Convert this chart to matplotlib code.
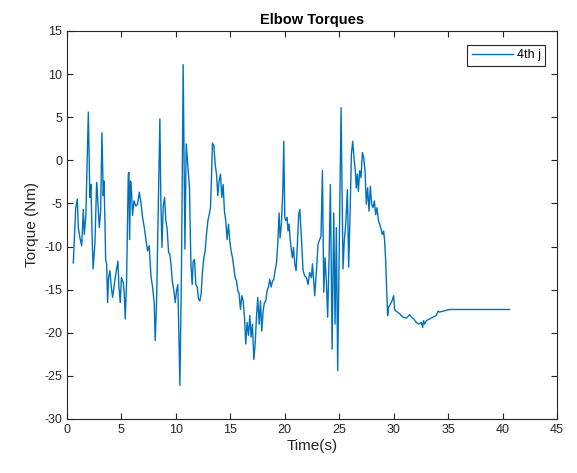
import matplotlib
matplotlib.use("Agg")
import matplotlib.pyplot as plt

# Elbow torque trace (time in s, torque in Nm)
time_s = [
    0.58, 0.80, 0.95, 1.04, 1.19, 1.35, 1.50, 1.59, 1.74, 1.80, 1.96, 2.10,
    2.20, 2.30, 2.40, 2.57, 2.72, 2.81, 2.97, 3.09, 3.21, 3.33, 3.40, 3.49,
    3.55, 3.64, 3.73, 3.82, 3.94, 4.07, 4.19, 4.31, 4.43, 4.56, 4.68, 4.77,
    4.89, 5.00, 5.17, 5.26, 5.35, 5.47, 5.63, 5.69, 5.75, 5.84, 5.93, 6.02,
    6.15, 6.33, 6.48, 6.64, 6.79, 6.94, 7.10, 7.25, 7.40, 7.55, 7.71, 7.86,
    8.01, 8.10, 8.23, 8.38, 8.53, 8.62, 8.72, 8.84, 8.96, 9.08, 9.20, 9.33,
    9.45, 9.57, 9.69, 9.82, 9.94, 10.06, 10.18, 10.37, 10.52, 10.67, 10.83,
    10.95, 11.07, 11.16, 11.25, 11.38, 11.50, 11.59, 11.71, 11.83, 11.96,
    12.08, 12.20, 12.32, 12.45, 12.57, 12.69, 12.81, 12.94, 13.06, 13.18,
    13.27, 13.36, 13.49, 13.61, 13.73, 13.85, 13.97, 14.10, 14.22, 14.34,
    14.46, 14.58, 14.71, 14.83, 14.95, 15.07, 15.20, 15.32, 15.44, 15.57,
    15.69, 15.81, 15.93, 16.06, 16.18, 16.30, 16.42, 16.54, 16.67, 16.79,
    16.91, 17.03, 17.16, 17.28, 17.40, 17.52, 17.65, 17.77, 17.89, 18.01,
    18.13, 18.26, 18.38, 18.50, 18.62, 18.75, 18.87, 18.99, 19.11, 19.24,
    19.36, 19.48, 19.57, 19.69, 19.82, 19.91, 20.00, 20.09, 20.21, 20.30,
    20.40, 20.49, 20.61, 20.70, 20.80, 20.92, 21.04, 21.16, 21.28, 21.38,
    21.53, 21.68, 21.83, 21.99, 22.14, 22.29, 22.45, 22.54, 22.66, 22.75,
    22.91, 23.06, 23.21, 23.33, 23.46, 23.58, 23.70, 23.82, 23.94, 24.07,
    24.19, 24.35, 24.50, 24.62, 24.74, 24.86, 24.99, 25.17, 25.26, 25.35,
    25.47, 25.60, 25.75, 25.87, 25.99, 26.12, 26.24, 26.36, 26.48, 26.57,
    26.67, 26.76, 26.88, 27.00, 27.13, 27.25, 27.37, 27.49, 27.61, 27.74,
    27.86, 27.98, 28.10, 28.23, 28.35, 28.47, 28.60, 28.72, 28.84, 28.96,
    29.08, 29.17, 29.27, 29.36, 29.45, 29.54, 29.69, 29.85, 30.00, 30.09,
    30.24, 30.55, 30.86, 31.16, 31.47, 31.65, 31.84, 32.08, 32.32, 32.54,
    32.66, 32.75, 32.84, 33.00, 33.30, 33.61, 33.91, 34.07, 34.22, 34.52,
    34.83, 35.14, 40.64,
]
torque_nm = [
    -11.9, -5.5, -4.5, -7.8, -9.0, -9.9, -5.7, -8.6, -6.3, -2.8, 5.6, -4.3,
    -2.8, -8.6, -12.6, -9.5, -2.6, -4.3, -7.8, -5.9, 3.2, -4.1, -2.4, -7.4,
    -11.5, -12.0, -16.5, -13.6, -12.8, -14.7, -15.9, -14.7, -13.6, -12.6, -11.7, -14.7,
    -16.5, -13.6, -14.2, -15.5, -18.4, -14.2, -1.6, -1.4, -9.2, -2.4, -3.7, -6.4,
    -4.7, -5.3, -5.1, -3.7, -4.9, -6.6, -7.8, -9.2, -10.5, -9.9, -13.4, -14.7,
    -16.5, -20.9, -16.3, -5.9, 4.8, -4.7, -10.1, -5.3, -4.3, -7.0, -8.0, -10.7,
    -10.9, -12.4, -14.2, -15.1, -16.5, -15.1, -14.4, -26.1, -12.0, 11.1, -10.3,
    1.9, -0.1, -1.6, -3.2, -12.0, -14.4, -11.7, -11.5, -14.4, -14.7,
    -16.1, -16.3, -15.5, -12.8, -11.3, -10.5, -8.6, -7.0, -6.3, -5.5,
    -2.0, 2.0, 1.7, -0.5, -1.6, -4.1, -2.4, -1.6, -4.3, -2.8,
    -5.9, -7.0, -9.2, -7.4, -9.3, -10.5, -11.3, -12.4, -13.6, -14.0,
    -15.1, -15.5, -17.3, -15.7, -16.3, -18.2, -21.3, -18.8, -20.3, -18.0,
    -20.5, -19.0, -23.1, -21.3, -18.2, -15.9, -19.0, -16.3, -19.8, -17.5,
    -16.5, -16.3, -15.1, -14.7, -13.8, -14.7, -14.0, -13.8, -12.8, -11.9,
    -9.7, -6.1, -9.0, -7.4, -3.6, 2.2, -6.6, -7.0, -6.6, -8.2,
    -7.4, -9.0, -10.5, -11.3, -10.1, -12.0, -12.8, -9.7, -6.3, -5.7,
    -9.0, -12.8, -13.4, -13.6, -14.4, -13.0, -13.6, -12.0, -14.0, -15.7,
    -12.8, -9.7, -9.2, -8.8, -1.2, -15.3, -11.3, -14.0, -18.2, -11.3,
    -2.8, -21.9, -6.1, -19.0, -7.8, -24.4, -11.3, 6.1, -3.2, -12.6,
    -9.3, -7.4, -3.4, -12.4, -6.6, 0.7, 2.2, 0.3, -1.2, -3.2,
    -1.6, -3.6, -1.2, -2.0, 0.9, 0.3, -1.2, -5.1, -3.2, -5.9,
    -3.0, -5.1, -5.5, -4.7, -6.3, -5.5, -7.0, -7.4, -8.0, -8.6,
    -8.2, -9.3, -11.7, -15.1, -18.0, -17.0, -16.7, -16.3, -15.7, -17.3,
    -17.5, -17.8, -18.2, -18.3, -17.9, -18.2, -18.4, -18.8, -19.0, -18.8,
    -19.4, -18.6, -19.0, -18.6, -18.4, -18.2, -18.0, -17.5, -17.6, -17.5,
    -17.4, -17.3, -17.3,
]

x_ticks = list(range(0, 46, 5))
y_ticks = list(range(-30, 16, 5))

AX_GREY = "#262626"
LINE_BLUE = "#0072BD"

plt.rcParams["font.family"] = ["Liberation Sans", "DejaVu Sans"]
plt.rcParams["axes.unicode_minus"] = False  # plain hyphen like the original

fig = plt.figure(figsize=(5.77, 4.73), dpi=100)
ax = fig.add_axes([0.1161, 0.1142, 0.8492, 0.8203])

ax.plot(time_s, torque_nm, color=LINE_BLUE, linewidth=1.0, label="4th j")

ax.set_xlim(0, 45)
ax.set_ylim(-30, 15)
ax.set_xticks(x_ticks)
ax.set_yticks(y_ticks)

for side in ax.spines.values():
    side.set_color(AX_GREY)
    side.set_linewidth(0.8)
ax.tick_params(direction="in", top=True, right=True, length=4,
               width=0.8, color=AX_GREY, labelcolor=AX_GREY, labelsize=9)

ax.set_title("Elbow Torques", fontsize=10.5, fontweight="bold", pad=5)
ax.set_xlabel("Time(s)", fontsize=11, color=AX_GREY, labelpad=2)
ax.set_ylabel("Torque (Nm)", fontsize=11, color=AX_GREY, labelpad=4)

leg = ax.legend(loc="upper right", bbox_to_anchor=(0.976, 0.964),
                borderaxespad=0, fancybox=False, framealpha=1,
                edgecolor=AX_GREY, fontsize=9, handlelength=3.3,
                handletextpad=0.3, borderpad=0.35)
leg.get_frame().set_linewidth(0.8)

fig.savefig("out.png", dpi=100)
